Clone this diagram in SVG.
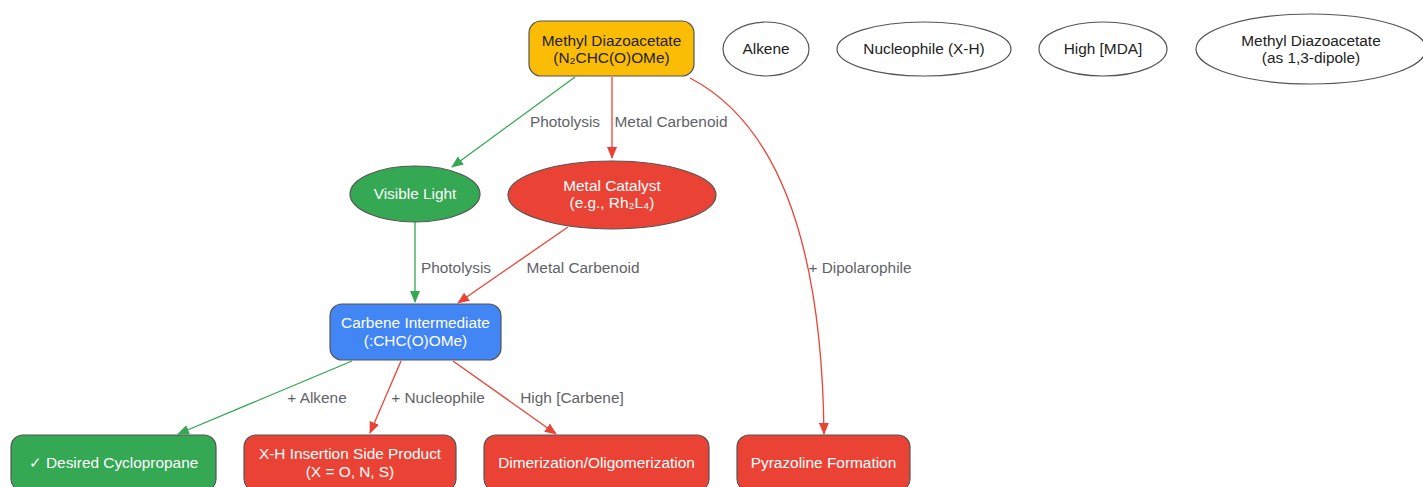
<svg xmlns="http://www.w3.org/2000/svg" width="1423" height="487" viewBox="0 0 1423 487">
<style>
text{font-family:"Liberation Sans",Arial,sans-serif;font-size:15.4px;text-anchor:middle;dominant-baseline:central}
.n{stroke:#555;stroke-width:1.2}
.w{fill:#fff}
.dk{fill:#222}
.lt{fill:#fff}
.lbl{fill:#5f6368}
.g{stroke:#34A853;stroke-width:1.3;fill:none}
.r{stroke:#EA4335;stroke-width:1.3;fill:none}
</style>
<defs>
<marker id="ag" markerWidth="12" markerHeight="10" refX="11" refY="5" orient="auto" markerUnits="userSpaceOnUse"><path d="M0,0L12,5L0,10z" fill="#34A853"/></marker>
<marker id="ar" markerWidth="12" markerHeight="10" refX="11" refY="5" orient="auto" markerUnits="userSpaceOnUse"><path d="M0,0L12,5L0,10z" fill="#EA4335"/></marker>
</defs>
<rect width="1423" height="487" fill="#fff"/>
<g id="connectors">
<path class="g" d="M575,77L452,167" marker-end="url(#ag)"/>
<text class="lbl" x="565" y="121">Photolysis</text>
<path class="r" d="M612,77L612,158" marker-end="url(#ar)"/>
<text class="lbl" x="671" y="121">Metal Carbenoid</text>
<path class="r" d="M690,78C780,125 822,250 824,434" marker-end="url(#ar)"/>
<text class="lbl" x="860" y="267">+ Dipolarophile</text>
<path class="g" d="M415,222L415,302" marker-end="url(#ag)"/>
<text class="lbl" x="456" y="267">Photolysis</text>
<path class="r" d="M568,227L458,303" marker-end="url(#ar)"/>
<text class="lbl" x="583" y="267">Metal Carbenoid</text>
<path class="g" d="M352,361L178,434" marker-end="url(#ag)"/>
<text class="lbl" x="317" y="397">+ Alkene</text>
<path class="r" d="M401,361L370,433" marker-end="url(#ar)"/>
<text class="lbl" x="438" y="397">+ Nucleophile</text>
<path class="r" d="M453,361L556,434" marker-end="url(#ar)"/>
<text class="lbl" x="572" y="397">High [Carbene]</text>
</g>
<g id="mda">
<rect class="n" x="529" y="21" width="165" height="55" rx="12" fill="#FBBC05"/>
<text class="dk" x="611.5" y="40">Methyl Diazoacetate</text>
<text class="dk" x="611.5" y="57">(N₂CHC(O)OMe)</text>
</g>
<g id="alkene">
<ellipse class="n w" cx="766" cy="49" rx="43" ry="27"/>
<text class="dk" x="766" y="48">Alkene</text>
</g>
<g id="nucleophile">
<ellipse class="n w" cx="924" cy="49" rx="87" ry="27"/>
<text class="dk" x="924" y="48">Nucleophile (X-H)</text>
</g>
<g id="highmda">
<ellipse class="n w" cx="1103" cy="49" rx="64" ry="27"/>
<text class="dk" x="1103" y="48">High [MDA]</text>
</g>
<g id="dipole">
<ellipse class="n w" cx="1311" cy="49" rx="115" ry="35"/>
<text class="dk" x="1311" y="40">Methyl Diazoacetate</text>
<text class="dk" x="1311" y="57">(as 1,3-dipole)</text>
</g>
<g id="light">
<ellipse class="n" cx="415" cy="194" rx="65" ry="28" fill="#34A853"/>
<text class="lt" x="415" y="193">Visible Light</text>
</g>
<g id="metal">
<ellipse class="n" cx="612" cy="195" rx="104" ry="34" fill="#EA4335"/>
<text class="lt" x="612" y="185">Metal Catalyst</text>
<text class="lt" x="612" y="202">(e.g., Rh₂L₄)</text>
</g>
<g id="carbene">
<rect class="n" x="330" y="304" width="171" height="56" rx="12" fill="#4285F4"/>
<text class="lt" x="415.5" y="322">Carbene Intermediate</text>
<text class="lt" x="415.5" y="340">(:CHC(O)OMe)</text>
</g>
<g id="cyclopropane">
<rect class="n" x="11" y="435" width="205" height="56" rx="12" fill="#34A853"/>
<text class="lt" x="113.5" y="462">✓ Desired Cyclopropane</text>
</g>
<g id="xh">
<rect class="n" x="244" y="435" width="212" height="56" rx="12" fill="#EA4335"/>
<text class="lt" x="350" y="453">X-H Insertion Side Product</text>
<text class="lt" x="350" y="471">(X = O, N, S)</text>
</g>
<g id="dimer">
<rect class="n" x="484" y="435" width="225" height="56" rx="12" fill="#EA4335"/>
<text class="lt" x="596.5" y="462">Dimerization/Oligomerization</text>
</g>
<g id="pyrazoline">
<rect class="n" x="737" y="435" width="173" height="56" rx="12" fill="#EA4335"/>
<text class="lt" x="823.5" y="462">Pyrazoline Formation</text>
</g>
</svg>
